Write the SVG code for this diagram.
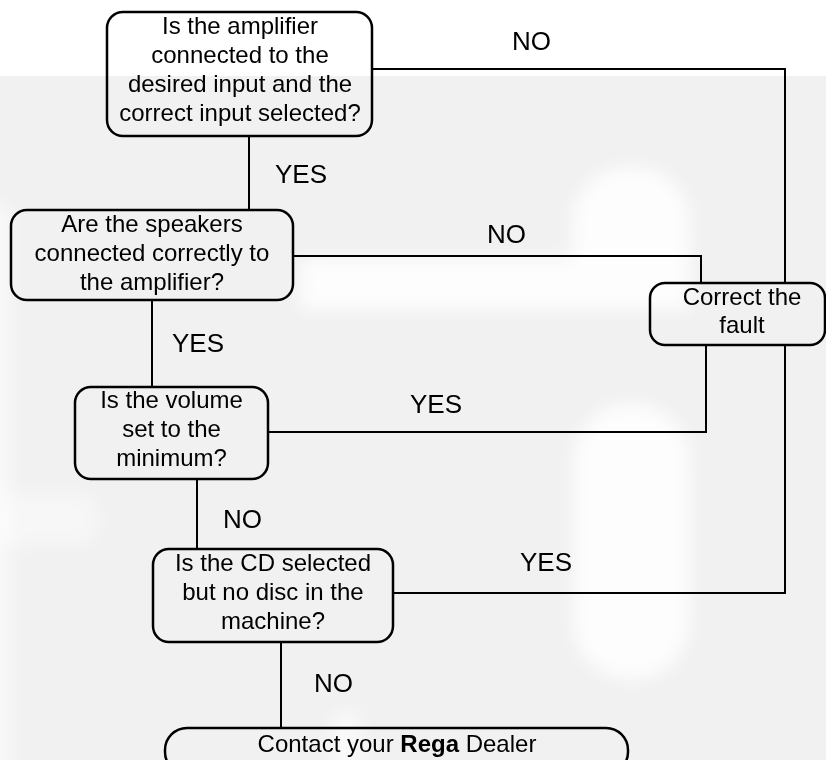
<svg xmlns="http://www.w3.org/2000/svg" width="826" height="760" viewBox="0 0 826 760">
  <style>
    .box { fill: none; stroke: #000; stroke-width: 2.5; }
    .conn { fill: none; stroke: #000; stroke-width: 2; stroke-linejoin: miter; }
    .t { font-family: "Liberation Sans", Arial, sans-serif; font-size: 24px; fill: #000; text-anchor: middle; }
    .lbl { font-family: "Liberation Sans", Arial, sans-serif; font-size: 26px; fill: #000; }
  </style>
  <defs>
    <filter id="soft" x="-30%" y="-30%" width="160%" height="160%">
      <feGaussianBlur stdDeviation="9"/>
    </filter>
  </defs>

  <!-- background -->
  <rect x="0" y="0" width="826" height="760" fill="#ffffff"/>
  <rect x="0" y="76" width="826" height="684" fill="#f1f1f1"/>
  <g id="watermark" fill="#ffffff" filter="url(#soft)" opacity="0.85">
    <rect x="300" y="258" width="390" height="52"/>
    <rect x="572" y="167" width="118" height="143" rx="55"/>
    <rect x="573" y="403" width="117" height="277" rx="58"/>
    <rect x="-20" y="205" width="30" height="580" opacity="0.7"/>
    <rect x="-20" y="492" width="120" height="54" rx="25" opacity="0.5"/>
    <rect x="330" y="710" width="32" height="70" rx="16" opacity="0.7"/>
  </g>

  <!-- connectors -->
  <g id="connectors">
    <path class="conn" d="M249,136 V210"/>
    <path class="conn" d="M372,69 H785 V283"/>
    <path class="conn" d="M293,256 H701 V283"/>
    <path class="conn" d="M152,300 V387"/>
    <path class="conn" d="M268,432 H706 V345"/>
    <path class="conn" d="M197,479 V549"/>
    <path class="conn" d="M393,593 H785 V345"/>
    <path class="conn" d="M281,642 V728"/>
    <text class="lbl" x="512" y="50">NO</text>
    <text class="lbl" x="275" y="183">YES</text>
    <text class="lbl" x="487" y="243">NO</text>
    <text class="lbl" x="172" y="352">YES</text>
    <text class="lbl" x="410" y="413">YES</text>
    <text class="lbl" x="223" y="528">NO</text>
    <text class="lbl" x="520" y="571">YES</text>
    <text class="lbl" x="314" y="692">NO</text>
  </g>

  <g id="q1">
    <rect class="box" x="107" y="12" width="265" height="124" rx="16"/>
    <text class="t" x="240" y="34">Is the amplifier</text>
    <text class="t" x="240" y="63">connected to the</text>
    <text class="t" x="240" y="92">desired input and the</text>
    <text class="t" x="240" y="121">correct input selected?</text>
  </g>

  <g id="q2">
    <rect class="box" x="11" y="210" width="282" height="90" rx="16"/>
    <text class="t" x="152" y="232">Are the speakers</text>
    <text class="t" x="152" y="261">connected correctly to</text>
    <text class="t" x="152" y="290">the amplifier?</text>
  </g>

  <g id="q3">
    <rect class="box" x="75" y="387" width="193" height="92" rx="16"/>
    <text class="t" x="171.5" y="408">Is the volume</text>
    <text class="t" x="171.5" y="437">set to the</text>
    <text class="t" x="171.5" y="466">minimum?</text>
  </g>

  <g id="q4">
    <rect class="box" x="153" y="549" width="240" height="93" rx="16"/>
    <text class="t" x="273" y="571">Is the CD selected</text>
    <text class="t" x="273" y="600">but no disc in the</text>
    <text class="t" x="273" y="629">machine?</text>
  </g>

  <g id="fix">
    <rect class="box" x="650" y="283" width="175" height="62" rx="15"/>
    <text class="t" x="742" y="305">Correct the</text>
    <text class="t" x="742" y="333">fault</text>
  </g>

  <g id="dealer">
    <rect class="box" x="165" y="728" width="463" height="46" rx="22"/>
    <text class="t" x="397" y="752">Contact your <tspan font-weight="bold">Rega</tspan> Dealer</text>
  </g>
</svg>
